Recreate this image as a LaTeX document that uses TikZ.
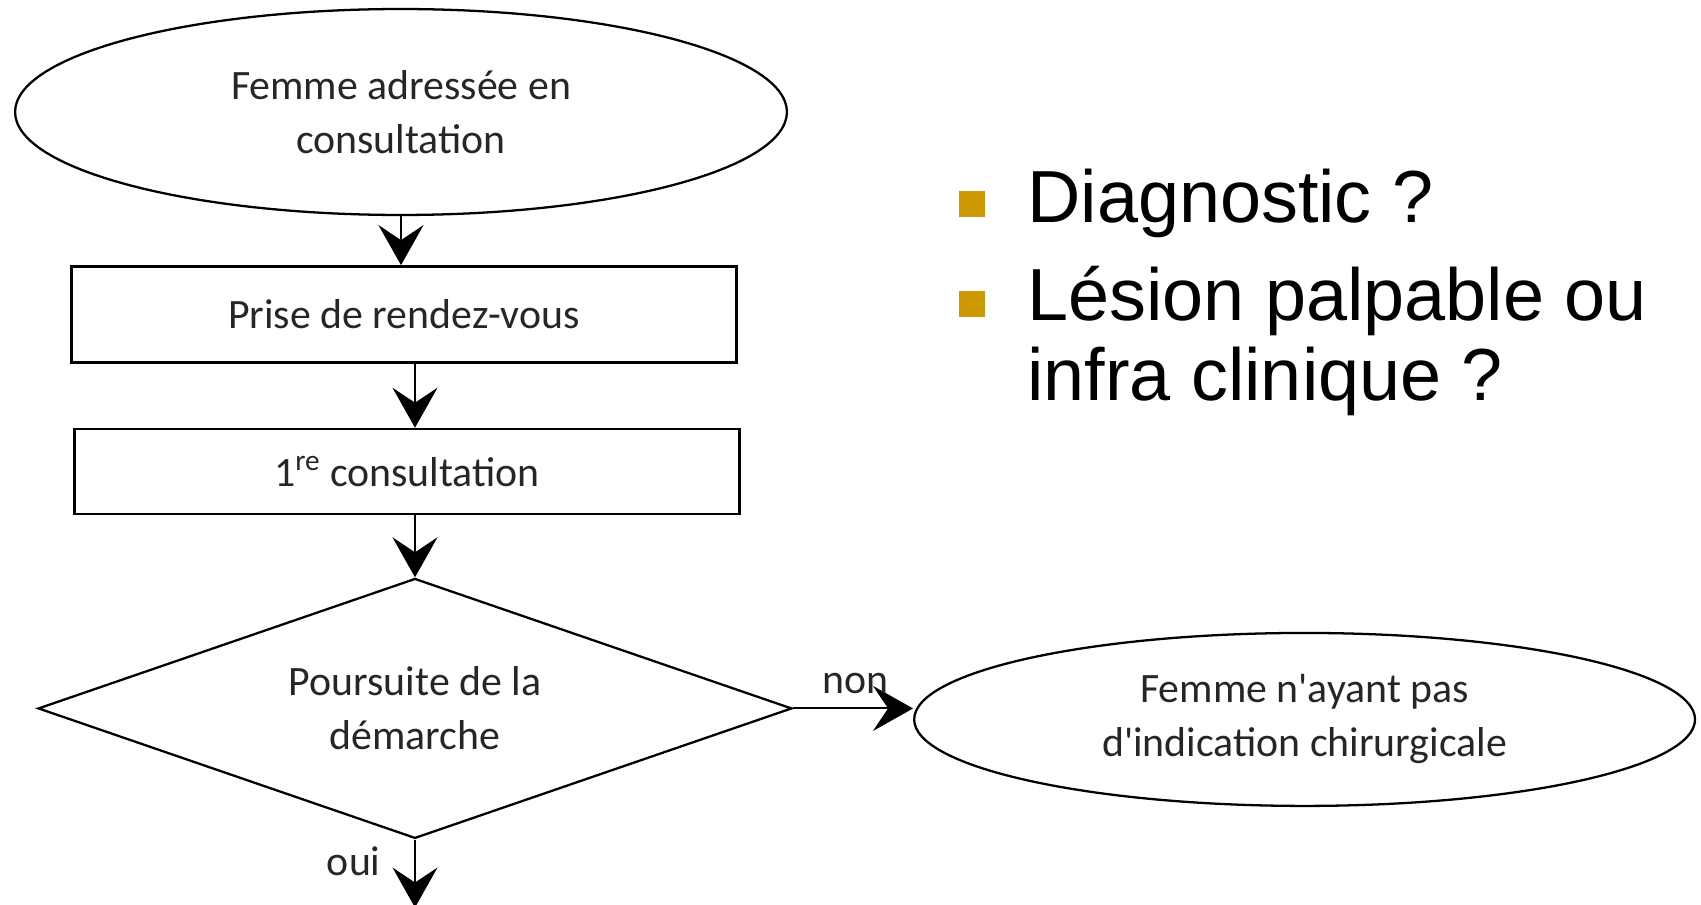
\documentclass[tikz,border=0pt]{standalone}
\usepackage{fontspec}
\setmainfont{Liberation Sans}
\newfontfamily\schemafont{Carlito}
\usepackage{xcolor}
\usepackage{tikz}
\usetikzlibrary{shapes.geometric, arrows.meta, positioning}

\definecolor{puceor}{HTML}{CC9900}

\begin{document}
\begin{tikzpicture}[x=0.02cm, y=-0.02cm,
        terminal/.style={ellipse, draw=black, line width=1.3pt, inner sep=0pt, minimum width=15.44cm, minimum height=4.12cm, align=center, font=\schemafont\fontsize{23.8}{30.7}\selectfont, text=black!85},
        etape/.style={rectangle, draw=black, line width=1.5pt, minimum width=13.3cm, align=center, font=\schemafont\fontsize{23.8}{30.7}\selectfont, text=black!85},
        decision/.style={diamond, aspect=2.9, draw=black, line width=1.3pt, inner sep=0pt, minimum width=15.08cm, minimum height=5.2cm, align=center, font=\schemafont\fontsize{23.8}{30.7}\selectfont, text=black!85},
        fleche/.style={-{Stealth[length=0.8cm, width=0.9cm, inset=0.3cm]}, line width=1.2pt},
        etiquette/.style={font=\schemafont\fontsize{23.8}{28}\selectfont, text=black!85},
        puce/.style={rectangle, fill=puceor, minimum size=0.52cm, inner sep=0pt},
        item/.style={font=\fontsize{42}{48}\selectfont, inner sep=0pt, anchor=base west}
    ]
    \path[use as bounding box] (0,0) rectangle (1701,905);

    % Flowchart
    \node (femme) [terminal] at (401,112) {Femme adressée en\\consultation};

    \node (rdv) [etape, minimum height=1.92cm, below=0.98cm of femme, xshift=0.06cm] {Prise de rendez-vous};

    \node (consult) [etape, minimum height=1.7cm, below=1.28cm of rdv, xshift=0.06cm] {1\textsuperscript{re} consultation};

    \node (dec) [decision, below=1.24cm of consult, xshift=0.16cm] {Poursuite de la\\démarche};

    \node (fin) [terminal, minimum width=15.62cm, minimum height=3.46cm, right=2.4cm of dec, yshift=-0.22cm] {Femme n'ayant pas\\d'indication chirurgicale};

    \coordinate [below=1.36cm of dec.south] (suite);

    % Edges
    \draw[fleche] (femme) -- (femme |- rdv.north);
    \draw[fleche] (rdv.south -| dec.north) -- (consult.north -| dec.north);
    \draw[fleche] (consult.south -| dec.north) -- (dec.north);
    \draw[fleche] (dec.east) -- node[etiquette, above=0.16cm, pos=0.52] {non} (dec.east -| fin.west);
    \draw[fleche] (dec.south) -- node[etiquette, left=0.55cm, pos=0.32] {oui} (suite);

    % Questions
    \node (p1) [puce] at (972,204) {};
    \node (t1) [item] at (1027,223) {Diagnostic ?};
    \node (p2) [puce] at (972,304) {};
    \node (t2) [item] at (1027,321) {Lésion palpable ou};
    \node (t3) [item] at (1027,401) {infra clinique ?};

\end{tikzpicture}
\end{document}
